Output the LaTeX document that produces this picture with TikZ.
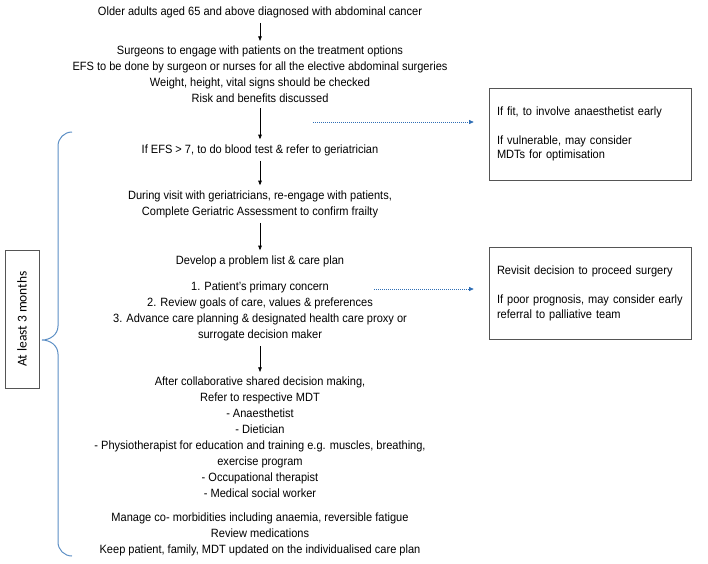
\documentclass[tikz,border=0pt]{standalone}
\usepackage{fontspec}
\setmainfont[FakeStretch=0.92]{Liberation Sans}
\newfontfamily\calfont{Carlito}
\usetikzlibrary{arrows.meta}
\definecolor{bracecol}{HTML}{5B8EC4}
\definecolor{hintcol}{HTML}{2F6EB5}
\definecolor{boxcol}{HTML}{555555}
\tikzset{
  stage/.style={align=center, inner sep=2pt, font=\fontsize{12}{16}\selectfont},
  flow/.style={-{Triangle[length=4.5pt,width=3.5pt]}, line width=0.6pt, shorten <=3pt, shorten >=3pt},
  hint/.style={-{Triangle[length=4.5pt,width=4pt]}, hintcol, line width=0.7pt, dash pattern=on 0.7pt off 1.3pt, shorten >=15pt},
  notebox/.style={draw=boxcol, line width=0.7pt, align=left, text width=186pt, inner xsep=8pt,
    minimum height=92pt, font=\fontsize{12}{14.5}\selectfont},
  bracket/.style={bracecol, line width=1pt}
}
\begin{document}
\begin{tikzpicture}[x=1pt,y=-1pt]
  \useasboundingbox (0,0) rectangle (708,563);
  \node[stage] (older) at (260,12) {Older adults aged 65 and above diagnosed with abdominal cancer};
  \node[stage] (surg) at (260,74.5) {Surgeons to engage with patients on the treatment options\\
    EFS to be done by surgeon or nurses for all the elective abdominal surgeries\\
    Weight, height, vital signs should be checked\\
    Risk and benefits discussed};
  \node[stage] (efs) at (260,150) {If EFS > 7, to do blood test \& refer to geriatrician};
  \node[stage] (visit) at (260,204) {During visit with geriatricians, re-engage with patients,\\
    Complete Geriatric Assessment to confirm frailty};
  \node[stage] (plan) at (260,261) {Develop a problem list \& care plan};
  \node[stage] (list) at (260,311.5) {1. Patient's primary concern\\
    2. Review goals of care, values \& preferences\\
    3. Advance care planning \& designated health care proxy or\\
    surrogate decision maker};
  \node[stage] (mdt) at (260,437.5) {After collaborative shared decision making,\\
    Refer to respective MDT\\
    - Anaesthetist\\
    - Dietician\\
    - Physiotherapist for education and training e.g. muscles, breathing,\\
    exercise program\\
    - Occupational therapist\\
    - Medical social worker};
  \node[stage] (manage) at (260,534) {Manage co- morbidities including anaemia, reversible fatigue\\
    Review medications\\
    Keep patient, family, MDT updated on the individualised care plan};

  \node[notebox] (fitbox) at (590,134) {If fit, to involve anaesthetist early\\[14.5pt]
    If vulnerable, may consider\\ MDTs for optimisation};
  \node[notebox] (revbox) at (590,293.5) {Revisit decision to proceed surgery\\[14.5pt]
    If poor prognosis, may consider early\\ referral to palliative team};

  \node[draw=boxcol, line width=0.7pt, rotate=90, minimum width=138pt, minimum height=34pt,
    inner sep=0pt, font=\calfont\fontsize{13.5}{15}\selectfont] (months) at (22,319) {At least 3 months};

  \draw [flow] (older) -- (surg);
  \draw [flow] (surg) -- (efs);
  \draw [flow] (efs) -- (visit);
  \draw [flow] (visit) -- (plan);
  \draw [flow] (list) -- (mdt);

  \coordinate (h1) at (313,122);
  \coordinate (h2) at (374,289);
  \draw [hint] (h1) -- (h1 -| fitbox.west);
  \draw [hint] (h2) -- (h2 -| revbox.west);

  \coordinate (tip) at (42,340);
  \draw [bracket] (72,132) to[out=180,in=90] (58,146) -- (58,326) to[out=-90,in=0] (tip)
    to[out=0,in=90] (58,354) -- (58,542) to[out=-90,in=180] (72,556);
\end{tikzpicture}
\end{document}
